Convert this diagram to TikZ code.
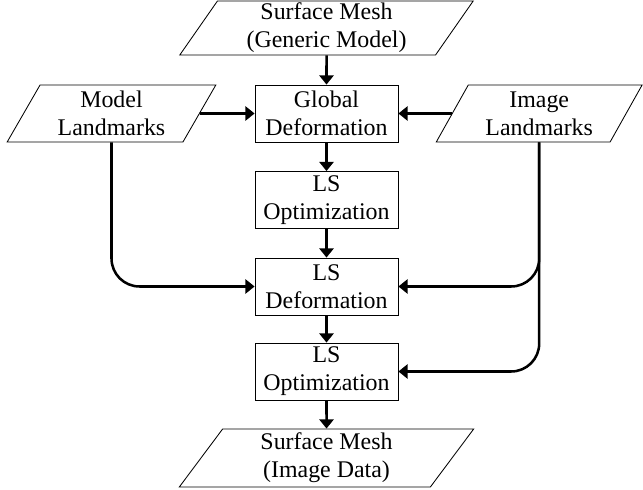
\documentclass[tikz,border=0pt]{standalone}
\usepackage{fontspec}
\setmainfont{Liberation Serif}
\usetikzlibrary{arrows.meta,shapes.geometric}

\begin{document}
\begin{tikzpicture}[>={Triangle[length=6.5pt,width=10pt]},
  font=\fontsize{17}{20}\selectfont,
  proc/.style={draw,line width=0.6pt,minimum width=3.575cm,minimum height=1.425cm,align=center,inner sep=1pt},
  data/.style={draw,line width=0.6pt,trapezium,trapezium left angle=62,trapezium right angle=118,trapezium stretches,align=center,inner sep=1pt},
  flow/.style={->,line width=1.8pt}]
  \useasboundingbox (0,0) rectangle (16.075,12.25);
  \node[data,minimum width=7.35cm,minimum height=1.35cm] (mesh) at (8.1625,11.55) {Surface Mesh\\(Generic Model)};
  \node[proc] (glob) at (8.1625,9.4125) {Global\\Deformation};
  \node[proc] (opt1) at (8.1625,7.25) {LS\\Optimization};
  \node[proc] (def) at (8.1625,5.0875) {LS\\Deformation};
  \node[proc] (opt2) at (8.1625,2.9625) {LS\\Optimization};
  \node[data,minimum width=7.375cm,minimum height=1.45cm] (res) at (8.1625,0.8) {Surface Mesh\\(Image Data)};
  \node[data,minimum width=5.225cm,minimum height=1.425cm] (mlm) at (2.7875,9.4125) {Model\\Landmarks};
  \node[data,minimum width=5.15cm,minimum height=1.425cm] (ilm) at (13.48,9.4125) {Image\\Landmarks};
  \draw[flow] (mesh) -- (glob);
  \draw[flow] (glob) -- (opt1);
  \draw[flow] (opt1) -- (def);
  \draw[flow] (def) -- (opt2);
  \draw[flow] (opt2) -- (res);
  \draw[flow] (mlm) -- (glob);
  \draw[flow] (ilm) -- (glob);
  \draw[flow,rounded corners=0.7cm] (mlm.south -| mlm.center) |- (def.west);
  \draw[flow,rounded corners=0.7cm] (ilm.south -| ilm.center) |- (def.east);
  \draw[flow,rounded corners=0.7cm] (ilm.south -| ilm.center) |- (opt2.east);
\end{tikzpicture}
\end{document}
